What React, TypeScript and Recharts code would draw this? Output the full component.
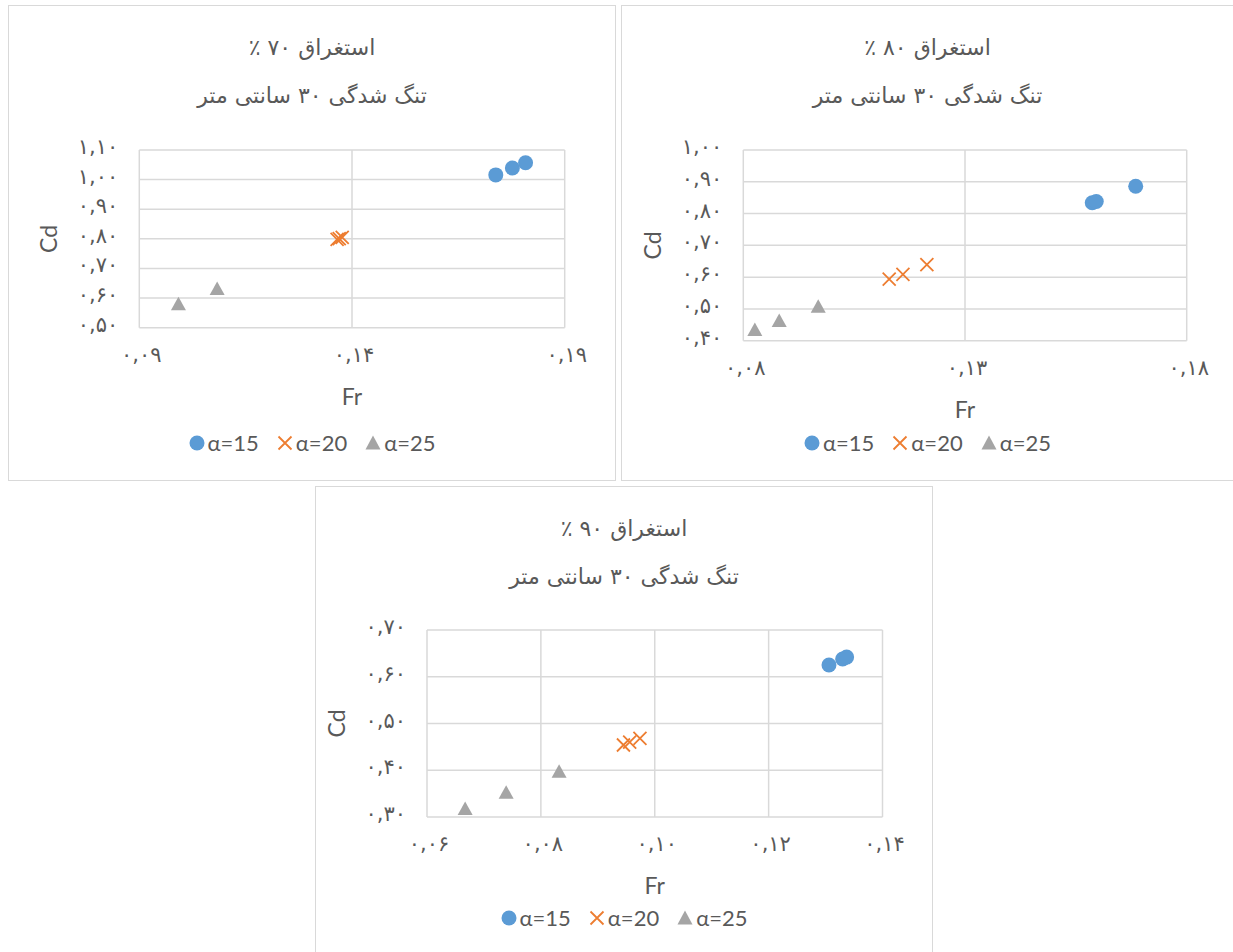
import { ScatterChart, Scatter, XAxis, YAxis, CartesianGrid, Legend, Label } from "recharts";

// Fr / Cd readings, contraction 30 cm
const fr70a15 = [0.1738, 0.1777, 0.1808];
const cd70a15 = [1.016, 1.039, 1.057];
const fr70a20 = [0.1365, 0.137, 0.1377];
const cd70a20 = [0.798, 0.801, 0.805];
const fr70a25 = [0.0992, 0.1083];
const cd70a25 = [0.579, 0.631];

const fr80a15 = [0.1587, 0.1596, 0.1685];
const cd80a15 = [0.834, 0.838, 0.886];
const fr80a20 = [0.1129, 0.116, 0.1214];
const cd80a20 = [0.594, 0.609, 0.639];
const fr80a25 = [0.0826, 0.0881, 0.0969];
const cd80a25 = [0.434, 0.462, 0.507];

const fr90a15 = [0.1306, 0.133, 0.1337];
const cd90a15 = [0.625, 0.638, 0.642];
const fr90a20 = [0.0945, 0.0956, 0.0974];
const cd90a20 = [0.454, 0.46, 0.468];
const fr90a25 = [0.0667, 0.0739, 0.0832];
const cd90a25 = [0.317, 0.352, 0.397];

const xTicks70 = [0.09, 0.14, 0.19];
const yTicks70 = [0.5, 0.6, 0.7, 0.8, 0.9, 1.0, 1.1];
const xTicks80 = [0.08, 0.13, 0.18];
const yTicks80 = [0.4, 0.5, 0.6, 0.7, 0.8, 0.9, 1.0];
const xTicks90 = [0.06, 0.08, 0.1, 0.12, 0.14];
const yTicks90 = [0.3, 0.4, 0.5, 0.6, 0.7];

const seriesNames = ["α=15", "α=20", "α=25"];
const titleLine2 = "تنگ شدگی ۳۰ سانتی متر";

const BLUE = "#5b9bd5";
const ORANGE = "#ed7d31";
const GRAY = "#a5a5a5";
const TEXT = "#595959";
const GRID = "#d9d9d9";

const FA_DIGITS = "۰۱۲۳۴۵۶۷۸۹";
const toFa = (v: number) =>
  v.toFixed(2).replace(".", ",").replace(/\d/g, (d) => FA_DIGITS[Number(d)]);

const zip = (xs: number[], ys: number[]) => xs.map((x, i) => ({ x, y: ys[i] }));

const Dot = (p: any) => <circle cx={p.cx} cy={p.cy} r={7.5} fill={BLUE} />;
const Cross = (p: any) => (
  <path
    d={`M${p.cx - 6.5},${p.cy - 6.5}L${p.cx + 6.5},${p.cy + 6.5}M${p.cx + 6.5},${p.cy - 6.5}L${p.cx - 6.5},${p.cy + 6.5}`}
    stroke={ORANGE}
    strokeWidth={1.8}
    fill="none"
  />
);
const Tri = (p: any) => (
  <path d={`M${p.cx},${p.cy - 7.5}L${p.cx + 7.5},${p.cy + 6}L${p.cx - 7.5},${p.cy + 6}Z`} fill={GRAY} />
);

const tickFont = { fontFamily: "DejaVu Sans", fontSize: 21, fill: TEXT, letterSpacing: 4.5 };

const XTick = ({ x, y, payload }: any) => (
  <text x={x + 2} y={y + 27} textAnchor="middle" dominantBaseline="central" {...tickFont}>
    {toFa(payload.value)}
  </text>
);
const YTick = ({ x, y, payload }: any) => (
  <text x={x - 21} y={y - 3} textAnchor="end" dominantBaseline="central" {...tickFont}>
    {toFa(payload.value)}
  </text>
);

const LegendRow = () => (
  <div style={{ display: "flex", justifyContent: "center", alignItems: "center", gap: 18, fontFamily: "Lato", fontSize: 22, color: TEXT }}>
    {seriesNames.map((name, i) => (
      <div key={name} style={{ display: "flex", alignItems: "center", gap: 3 }}>
        <svg width={16} height={16}>
          {i === 0 && <circle cx={8} cy={8} r={7.5} fill={BLUE} />}
          {i === 1 && <path d="M1.5,1.5L14.5,14.5M14.5,1.5L1.5,14.5" stroke={ORANGE} strokeWidth={1.8} />}
          {i === 2 && <path d="M8,0.5L15.5,14.5L0.5,14.5Z" fill={GRAY} />}
        </svg>
        <span>{name}</span>
      </div>
    ))}
  </div>
);

interface PanelProps {
  box: { x: number; y: number; w: number; h: number };
  plot: { x0: number; y0: number; x1: number; y1: number };
  title: string;
  xTicks: number[];
  yTicks: number[];
  a15: { x: number; y: number }[];
  a20: { x: number; y: number }[];
  a25: { x: number; y: number }[];
  legendY: number;
}

const Panel = ({ box, plot, title, xTicks, yTicks, a15, a20, a25, legendY }: PanelProps) => {
  const top = plot.y0 - box.y;
  const left = plot.x0 - box.x;
  const right = box.x + box.w - plot.x1;
  const bottom = box.y + box.h - plot.y1;
  const titleStyle = {
    position: "absolute" as const,
    left: 0,
    width: box.w,
    textAlign: "center" as const,
    fontFamily: "DejaVu Sans",
    fontSize: 22,
    color: TEXT,
    lineHeight: "28px",
  };
  return (
    <div style={{ position: "absolute", left: box.x, top: box.y, width: box.w, height: box.h }}>
      <ScatterChart width={box.w} height={box.h} margin={{ top, right, bottom: 0, left: 0 }}>
        <CartesianGrid stroke={GRID} strokeWidth={1.5} />
        <XAxis
          type="number"
          dataKey="x"
          domain={[xTicks[0], xTicks[xTicks.length - 1]]}
          ticks={xTicks}
          interval={0}
          height={bottom}
          axisLine={false}
          tickLine={false}
          tickSize={0}
          tickMargin={0}
          tick={<XTick />}
        >
          <Label
            content={({ viewBox }: any) => (
              <text
                x={viewBox.x + viewBox.width / 2}
                y={viewBox.y + 68}
                textAnchor="middle"
                dominantBaseline="central"
                fontFamily="Lato"
                fontSize={23}
                fill={TEXT}
              >
                Fr
              </text>
            )}
          />
        </XAxis>
        <YAxis
          type="number"
          dataKey="y"
          domain={[yTicks[0], yTicks[yTicks.length - 1]]}
          ticks={yTicks}
          interval={0}
          width={left}
          axisLine={false}
          tickLine={false}
          tickSize={0}
          tickMargin={0}
          tick={<YTick />}
        >
          <Label
            content={({ viewBox }: any) => {
              const cx = viewBox.x + viewBox.width - 91;
              const cy = viewBox.y + viewBox.height / 2;
              return (
                <text
                  x={cx}
                  y={cy}
                  transform={`rotate(-90 ${cx} ${cy})`}
                  textAnchor="middle"
                  dominantBaseline="central"
                  fontFamily="Lato"
                  fontSize={23}
                  fill={TEXT}
                >
                  Cd
                </text>
              );
            }}
          />
        </YAxis>
        <Legend
          layout="horizontal"
          verticalAlign="middle"
          align="center"
          wrapperStyle={{ top: legendY - 13, left: 0, width: box.w }}
          content={() => <LegendRow />}
        />
        <Scatter name={seriesNames[0]} data={a15} shape={Dot} isAnimationActive={false} />
        <Scatter name={seriesNames[1]} data={a20} shape={Cross} isAnimationActive={false} />
        <Scatter name={seriesNames[2]} data={a25} shape={Tri} isAnimationActive={false} />
      </ScatterChart>
      <div style={{ position: "absolute", inset: 0, border: `1.5px solid ${GRID}`, pointerEvents: "none" }} />
      <div dir="rtl" style={{ ...titleStyle, top: 29 }}>{title}</div>
      <div dir="rtl" style={{ ...titleStyle, top: 77 }}>{titleLine2}</div>
    </div>
  );
};

export default function App() {
  return (
    <div style={{ position: "absolute", left: 0, top: 0, width: 1233, height: 952, overflow: "hidden" }}>
      <Panel
        box={{ x: 8, y: 5, w: 608, h: 476 }}
        plot={{ x0: 139.3, y0: 150, x1: 564.7, y1: 327.7 }}
        title="استغراق ۷۰ ٪"
        xTicks={xTicks70}
        yTicks={yTicks70}
        a15={zip(fr70a15, cd70a15)}
        a20={zip(fr70a20, cd70a20)}
        a25={zip(fr70a25, cd70a25)}
        legendY={437}
      />
      <Panel
        box={{ x: 621, y: 5, w: 613, h: 476 }}
        plot={{ x0: 743.3, y0: 150, x1: 1186.7, y1: 340.7 }}
        title="استغراق ۸۰ ٪"
        xTicks={xTicks80}
        yTicks={yTicks80}
        a15={zip(fr80a15, cd80a15)}
        a20={zip(fr80a20, cd80a20)}
        a25={zip(fr80a25, cd80a25)}
        legendY={437}
      />
      <Panel
        box={{ x: 315, y: 486, w: 618, h: 470 }}
        plot={{ x0: 427, y0: 630, x1: 882.5, y1: 817 }}
        title="استغراق ۹۰ ٪"
        xTicks={xTicks90}
        yTicks={yTicks90}
        a15={zip(fr90a15, cd90a15)}
        a20={zip(fr90a20, cd90a20)}
        a25={zip(fr90a25, cd90a25)}
        legendY={431}
      />
    </div>
  );
}
